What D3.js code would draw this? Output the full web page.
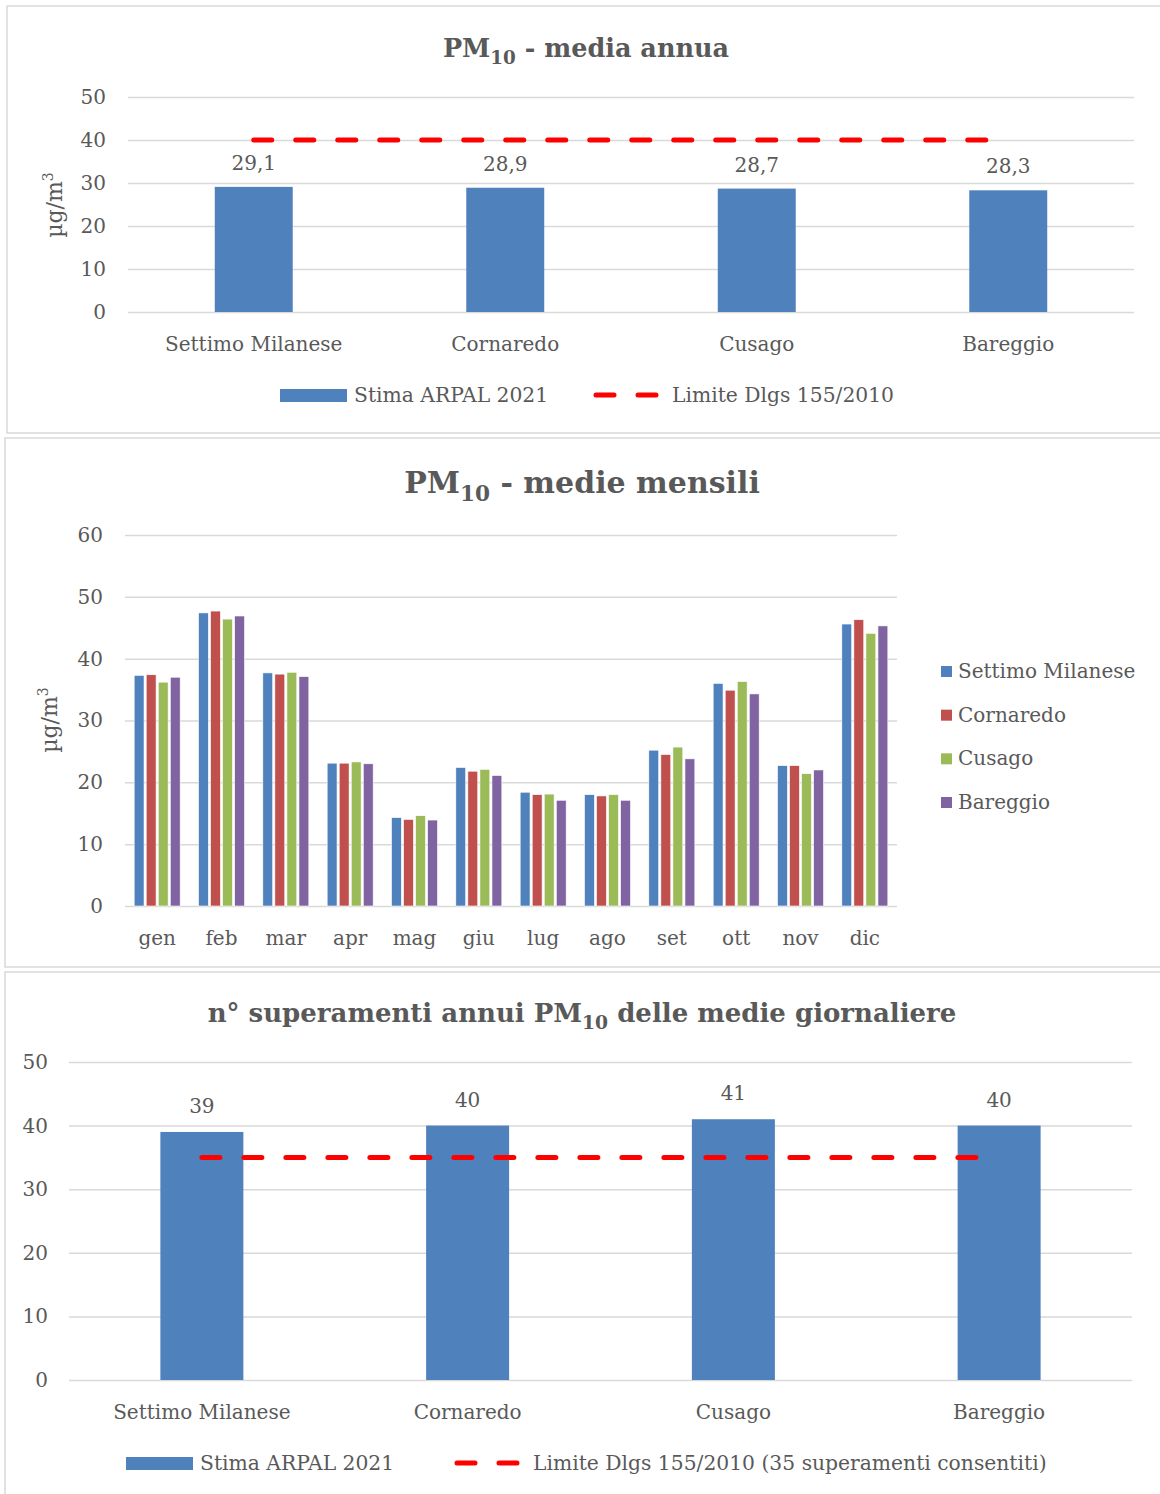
<!DOCTYPE html>
<html><head><meta charset="utf-8">
<script src="https://cdn.jsdelivr.net/npm/d3@7"></script>
<style>
body{margin:0;background:#fff;}
svg text{font-family:"DejaVu Serif",serif;fill:#595959;}
</style></head>
<body><svg id="c" width="1160" height="1494"></svg>
<script>
// ---- data ----
const sites = ["Settimo Milanese","Cornaredo","Cusago","Bareggio"];
const annualMean = [29.1, 28.9, 28.7, 28.3];
const annualLimit = 40;
const annualTicks = [0,10,20,30,40,50];

const months = ["gen","feb","mar","apr","mag","giu","lug","ago","set","ott","nov","dic"];
const monthlySettimo  = [37.3,47.4,37.7,23.1,14.3,22.4,18.4,18.0,25.2,36.0,22.7,45.6];
const monthlyCornaredo= [37.4,47.7,37.5,23.1,14.0,21.8,18.0,17.8,24.5,34.9,22.7,46.3];
const monthlyCusago   = [36.2,46.4,37.8,23.3,14.6,22.1,18.1,18.0,25.7,36.3,21.4,44.1];
const monthlyBareggio = [37.0,46.9,37.1,23.0,13.9,21.1,17.1,17.1,23.8,34.3,22.0,45.3];
const monthlyTicks = [0,10,20,30,40,50,60];

const exceedances = [39, 40, 41, 40];
const exceedLimit = 35;
const exceedTicks = [0,10,20,30,40,50];

const barColor = "#4f81bd";
const seriesColors = ["#4f81bd","#c0504d","#9bbb59","#8064a2"];
const gridColor = "#d9d9d9";

const svg = d3.select("#c");

function panel(x,y,w,h){
  svg.append("rect").attr("x",x).attr("y",y).attr("width",w).attr("height",h)
    .attr("fill","#fff").attr("stroke","#d9d9d9").attr("stroke-width",1.5);
}
function title(cx,cy,pre,sub,post,size){
  const t = svg.append("text").attr("x",cx).attr("y",cy).attr("text-anchor","middle")
    .attr("font-weight","bold").attr("font-size",size);
  t.append("tspan").text(pre);
  t.append("tspan").attr("font-size",size*0.72).attr("dy",size*0.28).text(sub);
  t.append("tspan").attr("dy",-size*0.28).text(post);
}
function yLabel(x,y){
  const t = svg.append("text").attr("transform",`translate(${x},${y}) rotate(-90)`)
    .attr("text-anchor","middle").attr("font-size",22);
  t.append("tspan").text("µg/m");
  t.append("tspan").attr("font-size",14).attr("dy",-9).text("3");
}

// ---- single series bar + limit line ----
function singleChart(o){
  const x = d3.scaleBand().domain(sites).range([o.x0,o.x1]).paddingInner(o.pad).paddingOuter(o.pad/2);
  const y = d3.scaleLinear().domain([0,50]).range([o.y0,o.y1]);
  const g = svg.append("g");
  g.append("g").attr("transform",`translate(${o.x0},0)`)
    .call(d3.axisLeft(y).tickValues(o.ticks).tickSize(-(o.x1-o.x0)).tickPadding(o.tickPad))
    .call(a=>a.select(".domain").remove())
    .call(a=>a.selectAll("line").attr("stroke",gridColor).attr("stroke-width",1.5))
    .call(a=>a.selectAll("text").attr("font-size",20).attr("fill","#595959"));
  g.selectAll(".bar").data(o.values).join("rect")
    .attr("x",(d,i)=>x(sites[i])).attr("width",x.bandwidth())
    .attr("y",d=>y(d)).attr("height",d=>y(0)-y(d)).attr("fill",barColor);
  g.selectAll(".lbl").data(o.values).join("text")
    .attr("x",(d,i)=>x(sites[i])+x.bandwidth()/2).attr("y",d=>y(d)-o.lblOff)
    .attr("text-anchor","middle").attr("font-size",20).attr("fill","#404040")
    .text(d=>o.fmt(d));
  const line = d3.line().x(d=>x(d[0])+x.bandwidth()/2).y(d=>y(d[1]));
  g.append("path").datum(sites.map(s=>[s,o.limit]))
    .attr("d",line).attr("fill","none").attr("stroke","#ff0000").attr("stroke-width",5)
    .attr("stroke-dasharray","18,24").attr("stroke-linecap","round");
  g.selectAll(".xl").data(sites).join("text")
    .attr("x",d=>x(d)+x.bandwidth()/2).attr("y",o.xLabY)
    .attr("text-anchor","middle").attr("font-size",20).text(d=>d);
  // legend
  g.append("rect").attr("x",o.legX).attr("y",o.legY-6).attr("width",67).attr("height",13).attr("fill",barColor);
  g.append("text").attr("x",o.legX+74).attr("y",o.legY+7).attr("font-size",20.3).text("Stima ARPAL 2021");
  g.append("line").attr("x1",o.leg2X+2).attr("x2",o.leg2X+66).attr("y1",o.legY).attr("y2",o.legY)
    .attr("stroke","#ff0000").attr("stroke-width",5).attr("stroke-dasharray","18,24").attr("stroke-linecap","round");
  g.append("text").attr("x",o.leg2X+78).attr("y",o.legY+7).attr("font-size",20.3).text(o.limitText);
}

// Panel 1
panel(7,6,1160,427);
title(586,57,"PM","10"," - media annua",25.5);
yLabel(62,205);
singleChart({x0:128,x1:1134,y0:312,y1:97,pad:0.69,ticks:annualTicks,tickPad:22,
  values:annualMean,limit:annualLimit,fmt:d=>d3.format(".1f")(d).replace(".",","),
  lblOff:17,xLabY:351,legX:280,leg2X:594,legY:395,limitText:"Limite Dlgs 155/2010"});

// Panel 2
panel(5,438,1160,529);
title(582,493,"PM","10"," - medie mensili",30);
yLabel(57,720);
{
  const x0 = 125, x1 = 897;
  const x = d3.scaleBand().domain(months).range([x0,x1]).paddingInner(0.285).paddingOuter(0.1425);
  const names = ["Settimo Milanese","Cornaredo","Cusago","Bareggio"];
  const series = [monthlySettimo,monthlyCornaredo,monthlyCusago,monthlyBareggio];
  const xi = d3.scaleBand().domain(names).range([0,x.bandwidth()]).paddingInner(0.18);
  const y = d3.scaleLinear().domain([0,60]).range([906,535]);
  const g = svg.append("g");
  g.append("g").attr("transform",`translate(${x0},0)`)
    .call(d3.axisLeft(y).tickValues(monthlyTicks).tickSize(-(x1-x0)).tickPadding(22))
    .call(a=>a.select(".domain").remove())
    .call(a=>a.selectAll("line").attr("stroke",gridColor).attr("stroke-width",1.5))
    .call(a=>a.selectAll("text").attr("font-size",20).attr("fill","#595959"));
  months.forEach((m,i)=>{
    names.forEach((n,k)=>{
      g.append("rect").attr("x",x(m)+xi(n)).attr("width",xi.bandwidth())
        .attr("y",y(series[k][i])).attr("height",y(0)-y(series[k][i]))
        .attr("fill",seriesColors[k]).attr("stroke","#fff").attr("stroke-width",0.6);
    });
  });
  g.selectAll(".xl").data(months).join("text")
    .attr("x",d=>x(d)+x.bandwidth()/2).attr("y",945)
    .attr("text-anchor","middle").attr("font-size",20).text(d=>d);
  const ly = d3.scalePoint().domain(names).range([671,802]);
  names.forEach((n,k)=>{
    g.append("rect").attr("x",941).attr("y",ly(n)-5).attr("width",11).attr("height",11).attr("fill",seriesColors[k]);
    g.append("text").attr("x",958).attr("y",ly(n)+7).attr("font-size",20).text(n);
  });
}

// Panel 3
panel(5,972,1160,530);
title(582,1022,"n° superamenti annui PM","10"," delle medie giornaliere",26);
singleChart({x0:69,x1:1132,y0:1380,y1:1062,pad:0.6877,ticks:exceedTicks,tickPad:21,
  values:exceedances,limit:exceedLimit,fmt:d=>d,
  lblOff:19,xLabY:1419,legX:126,leg2X:455,legY:1463,limitText:"Limite Dlgs 155/2010 (35 superamenti consentiti)"});
</script></body></html>
